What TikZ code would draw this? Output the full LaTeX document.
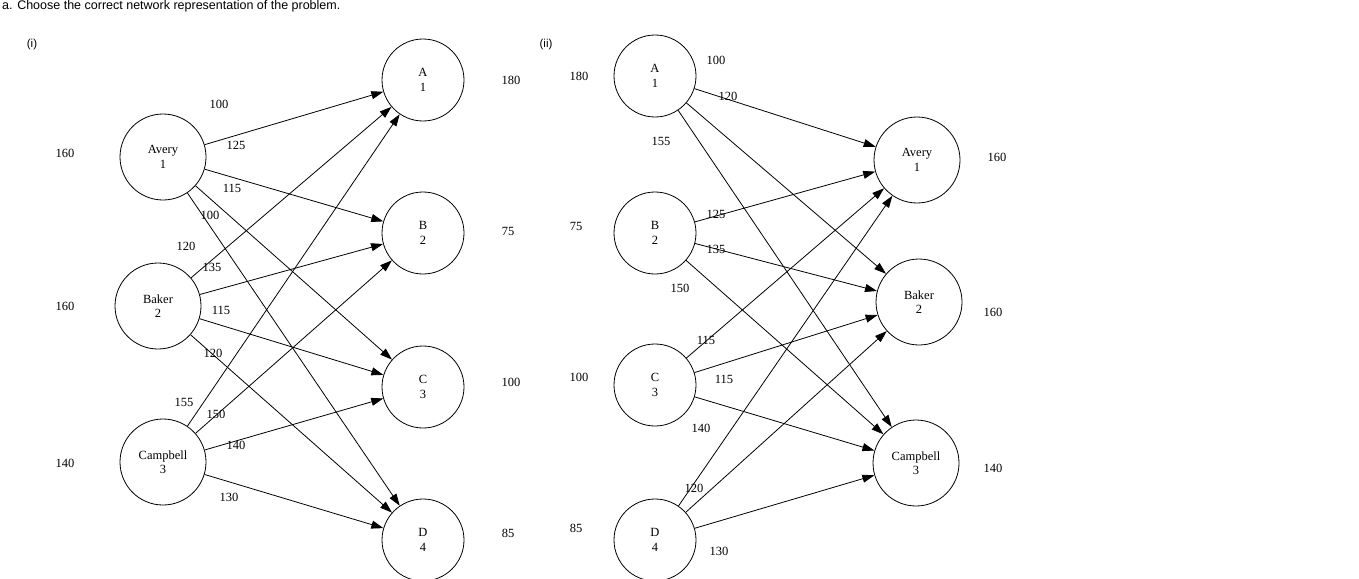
\documentclass[tikz,border=0pt]{standalone}
\usepackage{fontspec}
\setmainfont{Liberation Serif}
\newfontfamily\sansf{Liberation Sans}
\usetikzlibrary{arrows.meta}
\begin{document}
\begin{tikzpicture}[x=1pt,y=-1pt,
  nd/.style={circle,draw,line width=0.8pt,minimum size=86pt,inner sep=0pt,align=center,font=\fontsize{12.5}{14.5}\selectfont},
  ed/.style={line width=0.8pt,-{Triangle[length=12pt,width=8pt]}},
  lb/.style={font=\fontsize{12.5}{14}\selectfont,inner sep=0pt}]
\useasboundingbox (0,0) rectangle (1359,578);
\node[anchor=north west,inner sep=0pt,font=\sansf\fontsize{12.5}{14}\selectfont] (t) at (2,0) {a. Choose the correct network representation of the problem.};
\node[font=\sansf\fontsize{11.5}{13}\selectfont] (i) at (32,45) {(i)};
\node[font=\sansf\fontsize{11.5}{13}\selectfont] (ii) at (546,45) {(ii)};
% left
\node[nd] (av) at (163,157) {Avery\\1};
\node[nd] (ba) at (158,306) {Baker\\2};
\node[nd] (ca) at (163,462) {Campbell\\3};
\node[nd,minimum size=82pt] (A) at (423,80) {A\\1};
\node[nd,minimum size=82pt] (B) at (423,233) {B\\2};
\node[nd,minimum size=82pt] (C) at (423,387) {C\\3};
\node[nd,minimum size=82pt] (D) at (423,540) {D\\4};
\foreach \s/\t in {av/A,av/B,av/C,av/D,ba/A,ba/B,ba/C,ba/D,ca/A,ca/B,ca/C,ca/D} \draw[ed] (\s) -- (\t);
\node[lb] (l1) at (65,153) {160};
\node[lb] (l2) at (65,306) {160};
\node[lb] (l3) at (65,463) {140};
\node[lb] (l4) at (511,80) {180};
\node[lb] (l5) at (508,231) {75};
\node[lb] (l6) at (511,382) {100};
\node[lb] (l7) at (508,533) {85};
\node[lb] (e1) at (219,104) {100};
\node[lb] (e2) at (236,145) {125};
\node[lb] (e3) at (232,188) {115};
\node[lb] (e4) at (210,215) {100};
\node[lb] (e5) at (186,246) {120};
\node[lb] (e6) at (212,267) {135};
\node[lb] (e7) at (221,310) {115};
\node[lb] (e8) at (213,353) {120};
\node[lb] (e9) at (184,402) {155};
\node[lb] (e10) at (216,414) {150};
\node[lb] (e11) at (236,445) {140};
\node[lb] (e12) at (229,497) {130};
% right
\node[nd,minimum size=82pt] (RA) at (655,76) {A\\1};
\node[nd,minimum size=82pt] (RB) at (655,233) {B\\2};
\node[nd,minimum size=82pt] (RC) at (655,385) {C\\3};
\node[nd,minimum size=82pt] (RD) at (655,540) {D\\4};
\node[nd] (rav) at (917,160) {Avery\\1};
\node[nd] (rba) at (919,302) {Baker\\2};
\node[nd] (rca) at (916,463) {Campbell\\3};
\foreach \s/\t in {RA/rav,RA/rba,RA/rca,RB/rav,RB/rba,RB/rca,RC/rav,RC/rba,RC/rca,RD/rav,RD/rba,RD/rca} \draw[ed] (\s) -- (\t);
\node[lb] (r1) at (579,76) {180};
\node[lb] (r2) at (576,226) {75};
\node[lb] (r3) at (579,377) {100};
\node[lb] (r4) at (576,528) {85};
\node[lb] (r5) at (997,157) {160};
\node[lb] (r6) at (993,312) {160};
\node[lb] (r7) at (993,468) {140};
\node[lb] (f1) at (716,60) {100};
\node[lb] (f2) at (728,96) {120};
\node[lb] (f3) at (661,141) {155};
\node[lb] (f4) at (716,214) {125};
\node[lb] (f5) at (716,249) {135};
\node[lb] (f6) at (680,288) {150};
\node[lb] (f7) at (706,340) {115};
\node[lb] (f8) at (724,379) {115};
\node[lb] (f9) at (701,428) {140};
\node[lb] (f10) at (694,488) {120};
\node[lb] (f11) at (719,551) {130};
\end{tikzpicture}
\end{document}
